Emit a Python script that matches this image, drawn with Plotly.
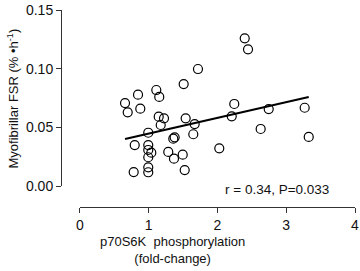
import plotly.graph_objects as go
import numpy as np

# data
p70s6k_fold = [1.508, 0.844, 1.110, 1.153, 0.655, 0.694, 0.877, 1.145, 1.222, 1.174,
               1.537, 1.668, 0.993, 1.648, 1.377, 1.357, 0.796, 0.993, 0.993, 1.037,
               0.993, 1.284, 1.367, 1.494, 0.781, 0.993, 0.993, 1.523, 2.396, 2.444,
               1.716, 2.244, 2.207, 2.745, 3.268, 2.628, 3.327, 2.026]
fsr = [0.0869, 0.0778, 0.0818, 0.0759, 0.0707, 0.0628, 0.0659, 0.0591, 0.0577, 0.0520,
       0.0577, 0.0528, 0.0454, 0.0441, 0.0415, 0.0403, 0.0349, 0.0349, 0.0307, 0.0284,
       0.0245, 0.0290, 0.0233, 0.0267, 0.0119, 0.0159, 0.0117, 0.0136, 0.1259, 0.1165,
       0.0997, 0.0699, 0.0594, 0.0656, 0.0667, 0.0486, 0.0418, 0.0321]
fit_slope = 0.0134
fit_intercept = 0.0313
x_ticks = [0, 1, 2, 3, 4]
y_ticks = [0.00, 0.05, 0.10, 0.15]
stats_text = "r = 0.34, P=0.033"

fit_x = [min(p70s6k_fold), max(p70s6k_fold)]
fit_y = [fit_intercept + fit_slope * v for v in fit_x]

FONT = "Liberation Sans, Arial, sans-serif"
AX = "#333333"

fig = go.Figure()
fig.add_trace(go.Scatter(x=fit_x, y=fit_y, mode="lines",
                         line=dict(color="black", width=2), showlegend=False,
                         cliponaxis=False))
fig.add_trace(go.Scatter(x=p70s6k_fold, y=fsr, mode="markers",
                         marker=dict(symbol="circle-open", size=9,
                                     color="black", line=dict(width=1.2)),
                         showlegend=False, cliponaxis=False))

fig.update_layout(
    width=360, height=271,
    margin=dict(l=61, r=5, t=10, b=64, autoexpand=False),
    paper_bgcolor="white", plot_bgcolor="white",
    font=dict(family=FONT, size=14, color="#111111"),
    xaxis=dict(range=[0, 4], tickvals=x_ticks, domain=[0.0646, 1],
               anchor="free", position=0, showline=True, linecolor=AX,
               linewidth=1, ticks="outside", ticklen=5, tickcolor=AX,
               showgrid=False, zeroline=False, automargin=False,
               ticklabeloverflow="allow"),
    yaxis=dict(range=[0, 0.15], tickvals=y_ticks, tickformat=".2f",
               domain=[0.1066, 1], anchor="free", position=0,
               showline=True, linecolor=AX, linewidth=1, ticks="outside",
               ticklen=5, tickcolor=AX, showgrid=False, zeroline=False,
               automargin=False, ticklabeloverflow="allow"),
    annotations=[
        dict(text="Myofibrillar FSR (% •h<sup>-1</sup>)", textangle=-90,
             xref="paper", yref="paper", x=-0.163, y=0.551,
             xanchor="center", yanchor="middle",
             showarrow=False, font=dict(size=13)),
        dict(text="p70S6K  phosphorylation<br>(fold-change)",
             xref="paper", yref="paper", x=0.378, y=-0.218,
             xanchor="center", yanchor="middle",
             showarrow=False, font=dict(size=13)),
        dict(text=stats_text, xref="paper", yref="paper", x=0.735, y=0.0863,
             xanchor="center", yanchor="middle",
             showarrow=False, font=dict(size=13.5)),
    ],
)

# remove the browser's default 8px page margin so the 360x271 figure fills the window
fig.write_html("out.html",
               config={"displayModeBar": False},
               post_script="document.body.style.margin='0';"
                           "document.body.style.overflow='hidden';")
